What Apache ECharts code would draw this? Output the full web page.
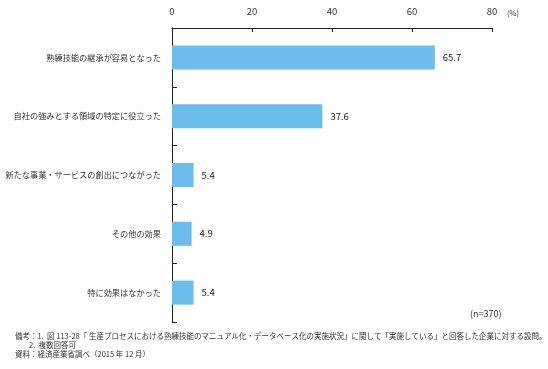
<!DOCTYPE html>
<html>
<head>
<meta charset="utf-8">
<script src="https://cdn.jsdelivr.net/npm/echarts@6/dist/echarts.min.js"></script>
<style>
html,body{margin:0;padding:0;background:#fff;}
#chart{width:548px;height:369px;}
</style>
</head>
<body>
<div id="chart"></div>
<script>
const categories = [
  '熟練技能の継承が容易となった',
  '自社の強みとする領域の特定に役立った',
  '新たな事業・サービスの創出につながった',
  'その他の効果',
  '特に効果はなかった'
];
const values = [65.7, 37.6, 5.4, 4.9, 5.4];
const xTicks = [0, 20, 40, 60, 80];
const unitLabel = '(%)';
const sampleLabel = '(n=370)';
const notes = [
  '備考：1.  図 113-28「 生産プロセスにおける熟練技能のマニュアル化・データベース化の実施状況」に関して「実施している」と回答した企業に対する設問。',
  '2.  複数回答可',
  '資料：経済産業省調べ（2015 年 12 月）'
];

const FONT = '"Noto Sans CJK JP", "Noto Sans", sans-serif';
const chart = echarts.init(document.getElementById('chart'), null, {renderer: 'canvas'});
chart.setOption({
  backgroundColor: '#ffffff',
  animation: false,
  textStyle: {fontFamily: FONT},
  grid: {left: 172, top: 28, right: 56, bottom: 47, containLabel: false},
  xAxis: {
    type: 'value',
    position: 'top',
    min: xTicks[0],
    max: xTicks[xTicks.length - 1],
    interval: xTicks[1] - xTicks[0],
    axisLine: {show: true, lineStyle: {color: '#222', width: 1}},
    axisTick: {show: true, inside: true, length: 4, lineStyle: {color: '#222'}},
    axisLabel: {fontSize: 9.5, color: '#333', margin: 12, fontFamily: FONT},
    splitLine: {show: false}
  },
  yAxis: {
    type: 'category',
    data: categories,
    inverse: true,
    axisLine: {show: true, lineStyle: {color: '#222', width: 1}},
    axisTick: {show: true, inside: true, length: 5, lineStyle: {color: '#222'}},
    axisLabel: {fontSize: 8.2, color: '#333', margin: 11, fontFamily: FONT}
  },
  series: [{
    type: 'bar',
    data: values,
    barWidth: 24,
    itemStyle: {color: '#6dbdec'},
    label: {
      show: true,
      position: 'right',
      distance: 8,
      fontSize: 9.5,
      color: '#222',
      fontFamily: FONT,
      formatter: p => p.value.toFixed(1)
    }
  }],
  graphic: [
    {type: 'text', left: 507, top: 9, style: {text: unitLabel, fontSize: 7.5, fill: '#333', fontFamily: FONT}},
    {type: 'text', left: 470, top: 309, style: {text: sampleLabel, fontSize: 9, fill: '#333', fontFamily: FONT}},
    {type: 'text', left: 15, top: 332, style: {text: notes[0], fontSize: 7.5, fill: '#333', fontFamily: FONT}},
    {type: 'text', left: 29, top: 341, style: {text: notes[1], fontSize: 7.5, fill: '#333', fontFamily: FONT}},
    {type: 'text', left: 15, top: 350, style: {text: notes[2], fontSize: 7.5, fill: '#333', fontFamily: FONT}}
  ]
});
</script>
</body>
</html>
